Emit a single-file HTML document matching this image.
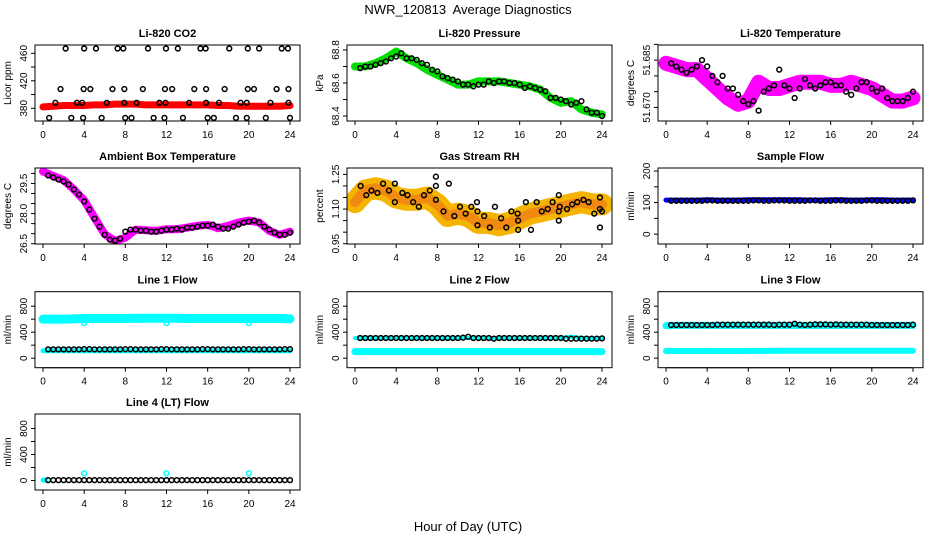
<!DOCTYPE html>
<html><head><meta charset="utf-8"><style>
html,body{margin:0;padding:0;background:#fff;}
svg{display:block;font-family:"Liberation Sans",Arial,sans-serif;}
</style></head><body>
<svg id="chart" width="936" height="540" viewBox="0 0 936 540" xmlns="http://www.w3.org/2000/svg">
<text x="468" y="14" text-anchor="middle" font-size="13">NWR_120813&#160; Average Diagnostics</text>
<text x="468" y="531" text-anchor="middle" font-size="13">Hour of Day (UTC)</text>
</svg>
<script>
// ---- data ----
const xTicks = [0,4,8,12,16,20,24];
const hours = [0,1,2,3,4,5,6,7,8,9,10,11,12,13,14,15,16,17,18,19,20,21,22,23,24];
// CO2
const co2Band = [382,383,384,384,384,385,385,386,386,386,385,385,385,385,385,385,385,384,384,383,383,383,383,383,384];
const co2HighH = [2.2,4.0,5.15,7.25,7.8,10.2,11.95,13.1,15.3,15.8,18.1,19.9,21.0,23.2,23.8];
const co2MidH = [1.7,3.95,4.6,6.75,7.9,9.7,11.85,12.55,14.7,15.85,17.65,19.9,20.5,22.7,23.85];
const co2LowH = [1.2,3.3,3.8,6.2,7.9,9.1,11.3,11.9,14.2,15.85,17.1,19.2,19.8,22.1,23.85];
const co2BotH = [0.6,2.75,3.9,5.7,7.99,8.6,10.75,11.8,13.6,16.0,16.6,18.75,19.8,21.65,24.0];
const co2Levels = [467,408,388,366];
// Pressure
const presBand = [68.70,68.70,68.72,68.75,68.79,68.75,68.72,68.68,68.65,68.62,68.59,68.59,68.61,68.61,68.61,68.60,68.59,68.58,68.56,68.51,68.48,68.49,68.44,68.42,68.41];
const presBlack = [68.69,68.70,68.70,68.71,68.72,68.73,68.75,68.76,68.78,68.75,68.75,68.74,68.72,68.71,68.68,68.67,68.64,68.63,68.62,68.61,68.59,68.59,68.58,68.59,68.59,68.61,68.60,68.61,68.61,68.60,68.60,68.59,68.57,68.58,68.57,68.56,68.55,68.51,68.51,68.50,68.49,68.47,68.48,68.49,68.44,68.42,68.42,68.40];
// Li-820 temperature
const tempBand = [51.684,51.683,51.682,51.682,51.679,51.676,51.673,51.671,51.672,51.678,51.676,51.676,51.677,51.678,51.678,51.678,51.677,51.677,51.678,51.677,51.676,51.674,51.672,51.672,51.673];
const tempBlack = [51.684,51.683,51.682,51.681,51.682,51.683,51.685,51.683,51.680,51.678,51.680,51.676,51.676,51.674,51.672,51.671,51.672,51.669,51.675,51.676,51.677,51.682,51.677,51.676,51.673,51.676,51.679,51.677,51.676,51.677,51.678,51.678,51.677,51.677,51.675,51.674,51.676,51.678,51.678,51.676,51.675,51.676,51.673,51.672,51.672,51.672,51.673,51.675];
// Ambient box temperature
const ambBand = [30.1,29.87,29.67,29.2,28.66,27.8,26.97,26.64,26.8,27.2,27.17,27.14,27.22,27.22,27.3,27.39,27.44,27.27,27.39,27.56,27.65,27.56,27.14,26.94,27.1];
const ambBlack = [29.9,29.8,29.7,29.6,29.45,29.2,28.95,28.6,28.2,27.75,27.35,26.95,26.7,26.65,26.75,27.1,27.2,27.2,27.15,27.15,27.1,27.1,27.15,27.2,27.2,27.25,27.2,27.3,27.3,27.35,27.4,27.4,27.45,27.35,27.25,27.25,27.35,27.45,27.55,27.6,27.65,27.55,27.35,27.2,27.05,26.95,26.95,27.05];
// Gas stream RH
const rhBand = [1.13,1.18,1.19,1.18,1.15,1.14,1.14,1.15,1.12,1.07,1.08,1.07,1.04,1.04,1.03,1.04,1.06,1.08,1.09,1.10,1.11,1.12,1.13,1.12,1.12];
const rhBlackH = [0.55,1.1,1.6,2.18,2.73,3.3,3.87,3.87,4.6,5.1,5.65,6.2,6.7,7.27,7.86,7.86,7.86,8.6,9.12,9.65,10.2,10.75,11.3,11.85,11.9,11.9,12.55,13.1,13.6,14.2,14.7,15.2,15.8,15.85,15.85,16.6,17.1,17.65,18.15,18.73,19.2,19.8,19.9,19.8,19.8,20.6,21.1,21.6,22.2,22.7,23.25,23.8,23.8,23.8,24.0];
const rhBlackV = [1.20,1.16,1.18,1.17,1.21,1.18,1.21,1.13,1.17,1.16,1.13,1.11,1.16,1.18,1.24,1.20,1.14,1.09,1.21,1.07,1.11,1.08,1.11,1.13,1.09,1.03,1.07,1.02,1.11,1.06,1.02,1.09,1.08,1.01,1.05,1.13,1.01,1.13,1.09,1.10,1.13,1.16,1.11,1.05,1.09,1.10,1.12,1.13,1.14,1.13,1.08,1.15,1.10,1.02,1.09];
// Flows
const sampleBand = [108,108,108,108,109,108,108,108,109,109,109,109,109,109,108,108,109,109,108,108,109,109,108,108,108];
const sampleBlack = [106,106,106,106,106,106,106,107,107,106,106,106,106,106,106,106,107,107,106,106,107,107,107,106,106,106,106,107,107,106,106,106,107,107,106,106,106,106,107,107,106,106,106,106,106,106,106,107];
const line1Band = [600,600,600,605,610,610,610,610,610,615,615,615,615,615,610,610,610,610,610,610,610,610,610,610,605];
const line1Low = [115,115,115,115,115,115,115,115,115,115,115,115,115,115,115,115,115,115,115,115,115,115,115,115,115];
const line1Black = [135,135,135,135,135,135,135,138,138,135,135,135,135,135,135,138,138,135,135,135,135,135,138,138,135,135,135,135,135,135,138,138,135,135,135,135,135,135,138,138,135,135,135,135,135,135,138,138];
const line2Band = [100,100,100,100,100,100,100,100,100,100,100,100,100,100,100,100,100,100,100,100,100,100,100,100,100];
const line2Black = [310,310,310,310,310,310,310,310,310,310,310,310,310,310,310,310,310,310,310,310,315,330,310,310,310,310,300,310,310,310,310,310,310,310,310,310,310,310,310,310,300,300,300,300,300,300,300,305];
const line3Band = [500,505,505,505,505,505,505,505,505,505,505,505,505,505,505,505,505,505,505,505,505,505,505,505,505];
const line3Low = [110,110,110,110,112,110,110,110,112,112,112,115,115,115,115,115,115,115,115,115,115,115,115,115,115];
const line3Black = [510,510,510,510,510,510,510,510,510,515,515,515,515,515,515,515,515,515,515,515,510,515,515,515,530,515,510,515,520,520,520,515,520,515,515,515,515,515,515,510,510,510,510,510,510,510,510,515];
const line4Black = [5,5,5,5,5,5,5,5,5,5,5,5,5,5,5,5,5,5,5,5,5,5,5,5,5,5,5,5,5,5,5,5,5,5,5,5,5,5,5,5,5,5,5,5,5,5,5,5];
const flowOutH = [4,12,20];
const line1OutV = [540,540,540];
const line4OutV = [110,110,110];

// ---- layout ----
const svg = document.getElementById('chart');
const NS = 'http://www.w3.org/2000/svg';
const colLeft = [35,347,658], rowTop = [45,168,291.7,414], W = 265, H = 76;
function el(tag, attrs, parent){ const e=document.createElementNS(NS,tag); for(const k in attrs) e.setAttribute(k,attrs[k]); (parent||svg).appendChild(e); return e; }

function makePanel(col,row,ymin,ymax,title,ylab,yTicks,yLabels,name){
  const L=colLeft[col], T=rowTop[row];
  const g=el('g',{});
  
  
  const p={g:g,L:L,T:T,
    x:h=>L+8+h*247/24,
    y:v=>T+(ymax-v)/(ymax-ymin)*H};
  const clip=el('clipPath',{id:'c'+name},g);
  el('rect',{x:L,y:T,width:W,height:H},clip);
  p.plot=el('g',{'clip-path':'url(#c'+name+')'},g);
  
  
  const box=el('rect',{x:L,y:T,width:W,height:H,fill:'none',stroke:'#000','stroke-width':1},g);
  
  
  const t=el('text',{x:L+W/2,y:T-8,'text-anchor':'middle','font-size':11,'font-weight':'bold'},g);
  t.textContent=title;
  
  
  const xa=el('g',{},g);
  
  
  el('line',{x1:p.x(0),x2:p.x(24),y1:T+H,y2:T+H,stroke:'#000'},xa);
  xTicks.forEach(v=>{
    el('line',{x1:p.x(v),x2:p.x(v),y1:T+H,y2:T+H+4,stroke:'#000'},xa);
    const tx=el('text',{x:p.x(v),y:T+H+17,'text-anchor':'middle','font-size':10},xa);
    tx.textContent=v;
    
    
  });
  const ya=el('g',{},g);
  
  
  el('line',{x1:L,x2:L,y1:p.y(yTicks[0]),y2:p.y(yTicks[yTicks.length-1]),stroke:'#000'},ya);
  yTicks.forEach(v=>{ el('line',{x1:L-4,x2:L,y1:p.y(v),y2:p.y(v),stroke:'#000'},ya); });
  yLabels.forEach(s=>{
    const yy=p.y(parseFloat(s));
    const tx=el('text',{x:L-8,y:yy,'text-anchor':'middle','font-size':10,transform:'rotate(-90 '+(L-8)+' '+yy+')'},ya);
    tx.textContent=s;
    
    
  });
  const yt=el('text',{x:L-24,y:T+H/2,'text-anchor':'middle','font-size':10,transform:'rotate(-90 '+(L-24)+' '+(T+H/2)+')'},g);
  yt.textContent=ylab;
  
  
  return p;
}
function band(p,hs,vs,color,w,name){
  const pts=hs.map((h,i)=>p.x(h)+','+p.y(vs[i])).join(' ');
  const pl=el('polyline',{points:pts,fill:'none',stroke:color,'stroke-width':w,'stroke-linejoin':'round','stroke-linecap':'round'},p.plot);
  
  
}
function pts(p,hs,vs,color,name,r){
  hs.forEach((h,i)=>{
    const c=el('circle',{cx:p.x(h),cy:p.y(vs[i]),r:r||2.4,fill:'none',stroke:color,'stroke-width':1.5},p.plot);
    
    
  });
}
const halfH = line4Black.map((_,i)=>0.5+i*0.5);

let p=makePanel(0,0,361.5,472.1,'Li-820 CO2','Licor ppm',[380,400,420,440,460],['380','420','460'],'co2');
band(p,hours,co2Band,'#ff0000',7,'co2-band');
[co2HighH,co2MidH,co2LowH,co2BotH].forEach((arr,k)=>pts(p,arr,arr.map(()=>co2Levels[k]),'#000','co2-point'));
p=makePanel(1,0,68.370,68.830,'Li-820 Pressure','kPa',[68.4,68.5,68.6,68.7,68.8],['68.4','68.6','68.8'],'pressure');
band(p,hours,presBand,'#00dd00',8,'pressure-band');
pts(p,halfH,presBlack,'#000','pressure-point');
p=makePanel(2,0,51.6657,51.6898,'Li-820 Temperature','degrees C',[51.670,51.675,51.680,51.685,51.690],['51.670','51.685'],'temperature');
band(p,hours,tempBand,'#ff00ff',15,'temperature-band');
pts(p,halfH,tempBlack,'#000','temperature-point');
p=makePanel(0,1,26.485,30.27,'Ambient Box Temperature','degrees C',[26.5,27.0,27.5,28.0,28.5,29.0,29.5,30.0],['26.5','28.0','29.5'],'ambient');
band(p,hours,ambBand,'#ff00ff',8,'ambient-band');
pts(p,halfH,ambBlack,'#000','ambient-point');
p=makePanel(1,1,0.9487,1.2776,'Gas Stream RH','percent',[0.95,1.00,1.05,1.10,1.15,1.20,1.25],['0.95','1.10','1.25'],'rh');
band(p,hours,rhBand,'#f5b400',22,'rh-band');
band(p,hours,rhBand,'#f08a10',10,'rh-band-core');
pts(p,rhBlackH,rhBlackV,'#000','rh-point');
p=makePanel(2,1,-31.1,209.6,'Sample Flow','ml/min',[0,50,100,150,200],['0','100','200'],'sample-flow');
band(p,hours,sampleBand,'#0000ff',5,'sample-flow-band');
pts(p,halfH,sampleBlack,'#000','sample-flow-point');
const fT=[0,200,400,600,800], fL=['0','400','800'];
p=makePanel(0,2,-146.6,1023,'Line 1 Flow','ml/min',fT,fL,'line1');
band(p,hours,line1Band,'#00ffff',9,'line1-band');
band(p,hours,line1Low,'#00ffff',5,'line1-low-band');
pts(p,flowOutH,line1OutV,'#00ffff','line1-outlier');
pts(p,halfH,line1Black,'#000','line1-point');
p=makePanel(1,2,-146.6,1023,'Line 2 Flow','ml/min',fT,fL,'line2');
band(p,hours,line2Band,'#00ffff',7,'line2-band');
band(p,hours,line2Black,'#00ffff',4,'line2-cyan');
pts(p,halfH,line2Black,'#000','line2-point');
p=makePanel(2,2,-146.6,1023,'Line 3 Flow','ml/min',fT,fL,'line3');
band(p,hours,line3Band,'#00ffff',7,'line3-band');
band(p,hours,line3Low,'#00ffff',6,'line3-low-band');
pts(p,halfH,line3Black,'#000','line3-point');
p=makePanel(0,3,-146.6,1023,'Line 4 (LT) Flow','ml/min',fT,fL,'line4');
band(p,[0,0.3],[5,5],'#00ffff',5,'line4-band');
pts(p,flowOutH,line4OutV,'#00ffff','line4-outlier');
pts(p,halfH,line4Black,'#000','line4-point');
</script>
</body></html>
